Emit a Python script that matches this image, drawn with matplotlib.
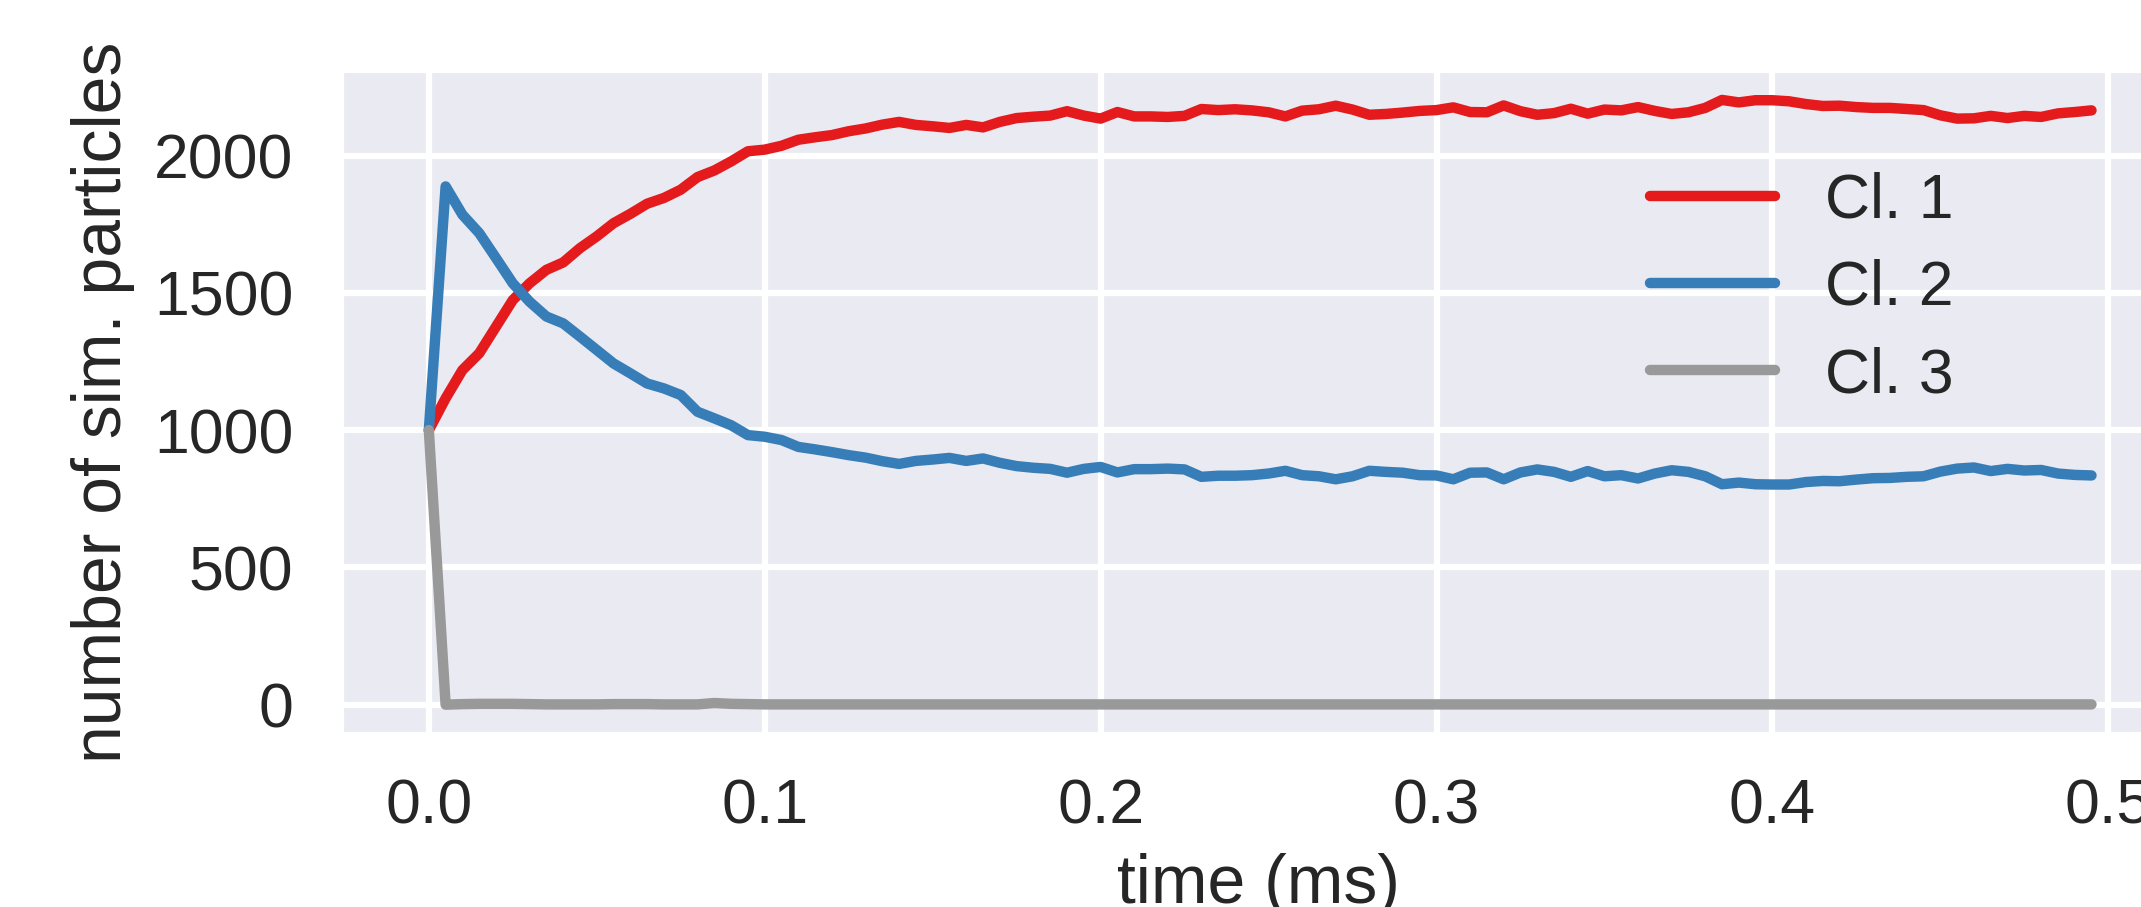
import numpy as np
import matplotlib
matplotlib.use("Agg")
import matplotlib.pyplot as plt
import seaborn as sns

# time axis (ms)
time_ms = [round(0.005 * i, 3) for i in range(100)]

cl1 = [1000, 1116, 1219, 1280, 1377, 1474, 1535, 1584, 1611, 1663,
       1706, 1754, 1788, 1825, 1846, 1876, 1922, 1946, 1979, 2016,
       2022, 2036, 2058, 2067, 2075, 2089, 2099, 2113, 2123, 2112,
       2107, 2101, 2112, 2103, 2123, 2137, 2142, 2146, 2162, 2146,
       2135, 2159, 2143, 2143, 2141, 2145, 2170, 2166, 2169, 2165,
       2158, 2143, 2164, 2169, 2182, 2168, 2149, 2152, 2157, 2163,
       2166, 2176, 2159, 2158, 2183, 2162, 2149, 2155, 2171, 2153,
       2168, 2165, 2177, 2163, 2152, 2158, 2174, 2203, 2194, 2202,
       2202, 2198, 2188, 2181, 2182, 2177, 2174, 2174, 2170, 2166,
       2147, 2135, 2136, 2145, 2137, 2145, 2141, 2154, 2159, 2165]

cl2 = [1000, 1888, 1785, 1718, 1627, 1535, 1468, 1414, 1389, 1341,
       1292, 1243, 1207, 1170, 1152, 1128, 1067, 1043, 1018, 982,
       976, 964, 939, 930, 920, 909, 900, 887, 877, 888,
       893, 899, 888, 897, 881, 869, 863, 859, 845, 859,
       866, 846, 858, 858, 860, 857, 830, 834, 834, 836,
       842, 852, 836, 832, 821, 832, 852, 848, 845, 836,
       835, 821, 845, 846, 821, 846, 857, 848, 830, 851,
       832, 836, 824, 842, 854, 848, 832, 803, 809, 803,
       802, 802, 811, 815, 814, 820, 825, 826, 830, 832,
       849, 860, 864, 851, 859, 853, 855, 842, 837, 835]

cl3 = [1000, 0, 2, 3, 3, 3, 2, 1, 1, 1,
       1, 2, 2, 2, 1, 1, 1, 6, 3, 2,
       1, 1, 1, 1, 1, 1, 1, 1, 1, 1,
       1, 1, 1, 1, 1, 1, 1, 1, 1, 1,
       1, 1, 1, 1, 1, 1, 1, 1, 1, 1,
       1, 1, 1, 1, 1, 1, 1, 1, 1, 1,
       1, 1, 1, 1, 1, 1, 1, 1, 1, 1,
       1, 1, 1, 1, 1, 1, 1, 1, 1, 1,
       1, 1, 1, 1, 1, 1, 1, 1, 1, 1,
       1, 1, 1, 1, 1, 1, 1, 1, 1, 1]

labels = ["Cl. 1", "Cl. 2", "Cl. 3"]
colors = ["#e41a1c", "#377eb8", "#999999"]
xticks = [0.0, 0.1, 0.2, 0.3, 0.4, 0.5]
yticks = [0, 500, 1000, 1500, 2000]

sns.set_theme(style="darkgrid")
plt.rcParams["font.family"] = ["Liberation Sans", "DejaVu Sans"]

DPI = 300
fig = plt.figure(figsize=(2141 / DPI, 907 / DPI), dpi=DPI)
ax = fig.add_axes([0.1595, 0.1907, 0.8566, 0.7321])

for ys, lab, col in zip([cl1, cl2, cl3], labels, colors):
    ax.plot(time_ms, ys, color=col, lw=2.5, label=lab, solid_capstyle="round")

ax.set_xlim(-0.026, 0.52)
ax.set_ylim(-107, 2312)
ax.set_xticks(xticks)
ax.set_xticklabels([f"{v:.1f}" for v in xticks])
ax.set_yticks(yticks)
ax.grid(True, color="white", lw=1.5)
ax.tick_params(axis="both", labelsize=15, colors="#262626", length=0)
ax.tick_params(axis="x", pad=10.5)
ax.tick_params(axis="y", pad=11.5)
ax.set_xlabel("time (ms)", fontsize=16.3, color="#262626", labelpad=4)
ax.set_ylabel("number of sim. particles", fontsize=16.3, color="#262626", labelpad=4.5)

leg = ax.legend(loc="center", bbox_to_anchor=(0.8415, 0.682),
                bbox_transform=fig.transFigure, frameon=False, fontsize=15,
                labelspacing=0.45)
for t in leg.get_texts():
    t.set_color("#262626")

fig.savefig("out.png", dpi=DPI)
